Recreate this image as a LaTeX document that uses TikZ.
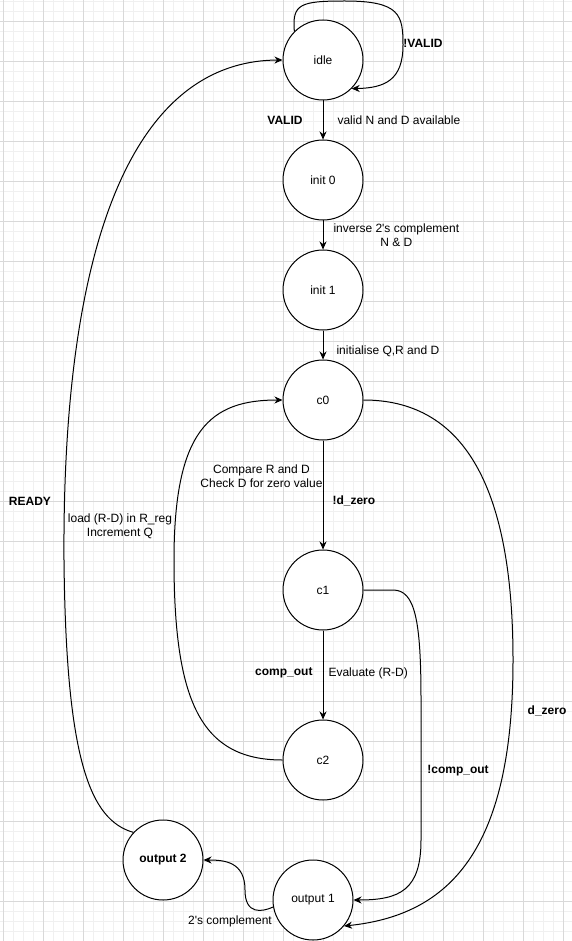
\documentclass[tikz,border=0pt]{standalone}
\usepackage{fontspec}
\setmainfont{Liberation Sans}[Ligatures=TeXOff]
\usetikzlibrary{arrows.meta}

\newcommand\labfont{\fontsize{12pt}{14pt}\selectfont}

\tikzset{
  state/.style={circle, draw, fill=white, line width=1pt, minimum size=80pt, inner sep=0pt, font=\labfont},
  boldstate/.style={state, font=\labfont\bfseries},
  lbl/.style={inner sep=0pt, align=center, font=\labfont},
  blbl/.style={lbl, font=\labfont\bfseries},
}

\begin{document}
\begin{tikzpicture}[x=1pt, y=-1pt, line width=1pt, >={Stealth[length=8pt,width=7pt,inset=2.5pt]}]

\useasboundingbox (0,0) rectangle (572,941);
\fill[white] (0,0) rectangle (572,941);
\begin{scope}[shift={(3,21)}]
\draw[black!6, line width=0.8pt, step=10pt] (-3,-21) grid (569,920);
\draw[black!15, line width=0.8pt, step=40pt] (-3,-21) grid (569,920);
\end{scope}

\node[state] (idle) at (323,60) {idle};
\node[state] (init0) at (323,180) {init 0};
\node[state] (init1) at (323,290) {init 1};
\node[state] (c0) at (323,400) {c0};
\node[state] (c1) at (323,590) {c1};
\node[state] (c2) at (323,760) {c2};
\node[boldstate] (out2) at (163,860) {output 2};
\node[state] (out1) at (313,900) {output 1};

\draw[->] (idle) -- (init0)
  node[midway, blbl, left=20pt] (lvalid) {VALID}
  node[midway, lbl, right=14pt] (lvalidnd) {valid N and D available};
\draw[->] (init0) -- (init1)
  node[midway, lbl, right=10pt] (linv) {inverse 2's complement\\N \& D};
\draw[->] (init1) -- (c0)
  node[pos=0.7, lbl, right=13pt] (linit) {initialise Q,R and D};
\draw[->] (c0) -- (c1)
  node[pos=0.33, lbl, left=0pt] (lcmp) {Compare R and D\\Check D for zero value}
  node[pos=0.55, blbl, right=9pt] (lndzero) {!d\_zero};
\draw[->] (c1) -- (c2)
  node[pos=0.48, blbl, left=10pt] (lcomp) {comp\_out}
  node[pos=0.48, lbl, right=5pt] (leval) {Evaluate (R-D)};

\draw[->] (idle.135) .. controls (292,4) and (300,1) .. (345,1)
  .. controls (400,1) and (403,15) .. (403,45)
  .. controls (403,80) and (385,88) .. (idle.-45);
\node[blbl] (lnvalid) at (423,43) {!VALID};

\draw[->] (c2.west) .. controls (200,760) and (174,700) .. (174,560)
  .. controls (174,430) and (210,400) .. (c0.west);
\node[lbl] (lload) at (120,526) {load (R-D) in R\_reg\\Increment Q};

\draw[->] (c0.east) .. controls (460,400) and (513,480) .. (513,660)
  .. controls (513,850) and (450,915) .. (out1.-40);
\node[blbl] (ldzero) at (547,711) {d\_zero};

\draw[->] (c1.east) -- (393,590) .. controls (415,590) and (421,620) .. (421,700)
  -- (421,840) .. controls (421,890) and (400,900) .. (out1.east);
\node[blbl] (lncomp) at (458,771) {!comp\_out};

\draw[->] (out1.190) .. controls (262,912) and (245,915) .. (245,890)
  .. controls (245,862) and (225,860) .. (out2.east);
\node[lbl] (lcompl) at (230,921) {2's complement};

\draw[->] (out2.137) .. controls (90,820) and (66,760) .. (64,560)
  .. controls (62,250) and (130,61) .. (idle.west);
\node[blbl] (lready) at (30,501) {READY};

\end{tikzpicture}
\end{document}
